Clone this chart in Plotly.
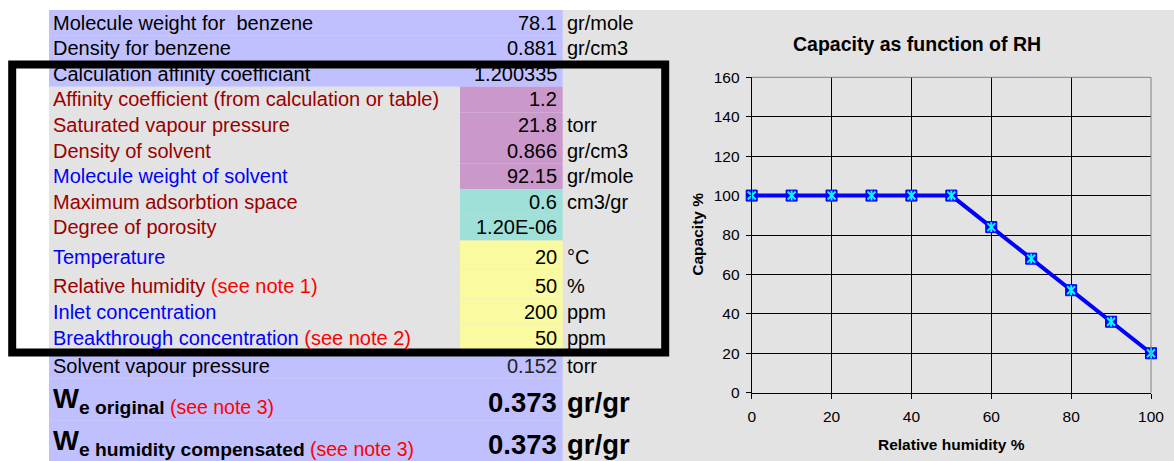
import plotly.graph_objects as go

# ---------------- data ----------------
# chart
rh_percent = [0, 10, 20, 30, 40, 50, 60, 70, 80, 90, 100]
capacity_percent = [100, 100, 100, 100, 100, 100, 84, 68, 52, 36, 20]
x_tick_values = [0, 20, 40, 60, 80, 100]
y_tick_values = [0, 20, 40, 60, 80, 100, 120, 140, 160]
chart_title = "Capacity as function of RH"
x_axis_title = "Relative humidity %"
y_axis_title = "Capacity %"

# spreadsheet rows
row_labels = [
    "Molecule weight for\u00a0 benzene",
    "Density for benzene",
    "Calculation affinity coefficiant",
    "Affinity coefficient (from calculation or table)",
    "Saturated vapour pressure",
    "Density of solvent",
    "Molecule weight of solvent",
    "Maximum adsorbtion space",
    "Degree of porosity",
    "Temperature",
    "Relative humidity",
    "Inlet concentration",
    "Breakthrough concentration",
    "Solvent vapour pressure",
]
row_notes = ["", "", "", "", "", "", "", "", "", "",
             "(see note 1)", "", "(see note 2)", ""]
row_values = ["78.1", "0.881", "1.200335", "1.2", "21.8", "0.866", "92.15",
              "0.6", "1.20E-06", "20", "50", "200", "50", "0.152"]
row_units = ["gr/mole", "gr/cm3", "", "", "torr", "gr/cm3", "gr/mole",
             "cm3/gr", "", "°C", "%", "ppm", "ppm", "torr"]

result_symbol = "W"
result_subscripts = ["e original", "e humidity compensated"]
result_notes = ["(see note 3)", "(see note 3)"]
result_values = ["0.373", "0.373"]
result_units = ["gr/gr", "gr/gr"]

# ---------------- styles ----------------
FIG_W, FIG_H = 1174, 461
FONT = "Liberation Sans, Arial, sans-serif"
GREY = "#E3E3E3"
BLUE_BG = "#C0C0FF"
PURPLE = "#CA98CA"
TEAL = "#9FE0D8"
YELLOW = "#FAFAA0"
DARKRED = "#990000"
BLUETXT = "#0000FF"
RED = "#FF0000"

label_colors = ["black", "black", "black", DARKRED, DARKRED, DARKRED, BLUETXT,
                DARKRED, DARKRED, BLUETXT, DARKRED, BLUETXT, BLUETXT, "black"]
label_fills = [BLUE_BG] * 3 + [GREY] * 10 + [BLUE_BG]
value_fills = [BLUE_BG] * 3 + [PURPLE] * 4 + [TEAL] * 2 + [YELLOW] * 4 + [BLUE_BG]
value_colors = ["black"] * 13 + ["#222222"]
row_heights = [25.6] * 9 + [29, 29, 26, 26, 28]
result_row_height = 42
table_top = 10
col_left, col_mid, col_right = 49, 460, 562.7
label_x, value_x, unit_x = 53, 557.3, 566.7
TABLE_FONT = 20
BIG_FONT = 27.5


def px(x):
    return x / FIG_W


def py(y):
    return 1 - y / FIG_H


shapes = []
annotations = []

# grey sheet background (units column + chart area)
shapes.append(dict(type="rect", xref="paper", yref="paper", layer="below",
                    x0=px(col_left), x1=px(FIG_W), y0=py(FIG_H), y1=py(table_top),
                    fillcolor=GREY, line_width=0))

y = table_top
for i, lab in enumerate(row_labels):
    h = row_heights[i]
    top, bot = y, y + h
    shapes.append(dict(type="rect", xref="paper", yref="paper", layer="below",
                       x0=px(col_left), x1=px(col_mid), y0=py(bot), y1=py(top),
                       fillcolor=label_fills[i], line_width=0))
    shapes.append(dict(type="rect", xref="paper", yref="paper", layer="below",
                       x0=px(col_mid), x1=px(col_right), y0=py(bot), y1=py(top),
                       fillcolor=value_fills[i], line_width=0))
    cy = bot - 12.9
    txt = f'<span style="color:{label_colors[i]}">{lab}</span>'
    if row_notes[i]:
        txt += f' <span style="color:{RED}">{row_notes[i]}</span>'
    common = dict(xref="paper", yref="paper", showarrow=False, borderpad=0,
                  borderwidth=0, yanchor="middle",
                  font=dict(family=FONT, size=TABLE_FONT, color="black"))
    annotations.append(dict(text=txt, x=px(label_x), y=py(cy), xanchor="left", **common))
    annotations.append(dict(text=row_values[i], x=px(value_x), y=py(cy), xanchor="right",
                            **{**common, "font": dict(family=FONT, size=TABLE_FONT,
                                                      color=value_colors[i])}))
    if row_units[i]:
        annotations.append(dict(text=row_units[i], x=px(unit_x), y=py(cy),
                                xanchor="left", **common))
    y = bot

for j in range(len(result_values)):
    top, bot = y, y + result_row_height
    shapes.append(dict(type="rect", xref="paper", yref="paper", layer="below",
                       x0=px(col_left), x1=px(col_right), y0=py(bot), y1=py(top),
                       fillcolor=BLUE_BG, line_width=0))
    cy = bot - 17.7
    txt = (f"<b>{result_symbol}<sub>{result_subscripts[j]}</sub></b>"
           f'<sub> <span style="font-size:19.5px;color:{RED}">{result_notes[j]}</span></sub>')
    common = dict(xref="paper", yref="paper", showarrow=False, borderpad=0,
                  borderwidth=0, yanchor="middle",
                  font=dict(family=FONT, size=BIG_FONT, color="black"))
    annotations.append(dict(text=txt, x=px(label_x - 0.5), y=py(cy - 2), xanchor="left",
                            **common))
    annotations.append(dict(text=f"<b>{result_values[j]}</b>", x=px(value_x),
                            y=py(cy), xanchor="right", **common))
    annotations.append(dict(text=f"<b>{result_units[j]}</b>", x=px(unit_x),
                            y=py(cy), xanchor="left", **common))
    y = bot

# black frame around the input block
shapes.append(dict(type="rect", xref="paper", yref="paper", layer="above",
                   x0=px(12.2), x1=px(665.2), y0=py(352.5), y1=py(64.4),
                   line=dict(color="black", width=8), fillcolor="rgba(0,0,0,0)"))

# chart frame top/right (grey)
shapes.append(dict(type="line", xref="x domain", yref="y domain", layer="above",
                   x0=0, x1=1, y0=1, y1=1, line=dict(color="#808080", width=1)))
shapes.append(dict(type="line", xref="x domain", yref="y domain", layer="above",
                   x0=1, x1=1, y0=0, y1=1, line=dict(color="#808080", width=1)))

# chart titles
annotations.append(dict(text=f"<b>{chart_title}</b>", xref="paper", yref="paper",
                        x=px(917), y=py(44), xanchor="center", yanchor="middle",
                        showarrow=False, font=dict(family=FONT, size=19.5, color="black")))
annotations.append(dict(text=f"<b>{x_axis_title}</b>", xref="paper", yref="paper",
                        x=px(951.5), y=py(444), xanchor="center", yanchor="middle",
                        showarrow=False, font=dict(family=FONT, size=15.5, color="black")))
annotations.append(dict(text=f"<b>{y_axis_title}</b>", xref="paper", yref="paper",
                        x=px(696.7), y=py(234), xanchor="center", yanchor="middle",
                        textangle=-90,
                        showarrow=False, font=dict(family=FONT, size=15.5, color="black")))

fig = go.Figure()
fig.add_trace(go.Scatter(x=rh_percent, y=capacity_percent, mode="lines+markers",
                         line=dict(color="#0000FF", width=4),
                         marker=dict(symbol="square", size=11, color="#0000FF",
                                     line=dict(color="#0000FF", width=1)),
                         cliponaxis=False, showlegend=False, hoverinfo="x+y"))
fig.add_trace(go.Scatter(x=rh_percent, y=capacity_percent, mode="markers",
                         marker=dict(symbol="x-thin-open", size=8, color="#00FFFF",
                                     line=dict(color="#00FFFF", width=2)),
                         cliponaxis=False, showlegend=False, hoverinfo="skip"))
fig.add_trace(go.Scatter(x=rh_percent, y=capacity_percent, mode="markers",
                         marker=dict(symbol="line-ns-open", size=7, color="#00FFFF",
                                     line=dict(color="#00FFFF", width=2)),
                         cliponaxis=False, showlegend=False, hoverinfo="skip"))

axis_common = dict(showgrid=True, gridcolor="black", gridwidth=1,
                   showline=True, linecolor="black", linewidth=1,
                   ticks="outside", ticklen=5, tickcolor="black", tickwidth=1,
                   zeroline=False, automargin=False,
                   tickfont=dict(size=15.5, family=FONT, color="black"),
                   fixedrange=True)

fig.update_layout(
    template="none",
    width=FIG_W, height=FIG_H, autosize=False,
    margin=dict(l=0, r=0, t=0, b=0, pad=0),
    paper_bgcolor="white", plot_bgcolor=GREY,
    font=dict(family=FONT, size=15, color="black"),
    shapes=shapes, annotations=annotations,
    xaxis=dict(domain=[px(751.7), px(1151)], range=[0, 100], tickvals=x_tick_values,
               ticklabelstandoff=5, **axis_common),
    yaxis=dict(domain=[py(392.7), py(77.3)], range=[0, 160], tickvals=y_tick_values,
               ticklabelstandoff=3, **axis_common),
)

fig.write_html("out.html", config={"displayModeBar": False})
